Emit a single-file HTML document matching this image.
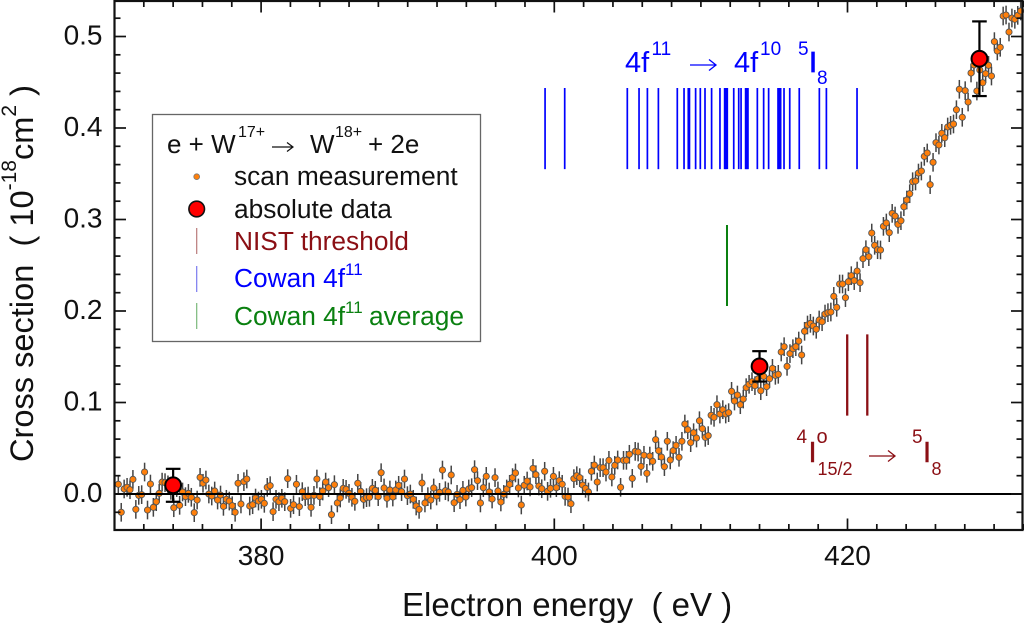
<!DOCTYPE html>
<html>
<head>
<meta charset="utf-8">
<title>Cross section chart</title>
<style>
html,body{margin:0;padding:0;background:#fff;}
svg{display:block;font-family:"Liberation Sans",Arial,sans-serif;}
</style>
</head>
<body>
<svg id="chart" xmlns="http://www.w3.org/2000/svg" width="1024" height="624" viewBox="0 0 1024 624">
  <rect x="0" y="0" width="1024" height="624" fill="#fff"/>
  <g id="marks"></g>
  <g id="axes"></g>

  <text x="402" y="616" font-size="33" fill="#111">Electron energy &#160;( eV )</text>
  <text transform="translate(33,462) rotate(-90)" font-size="32.6" fill="#111">Cross section &#160;( 10<tspan font-size="21" dy="-17">-18</tspan><tspan dy="17">cm</tspan><tspan font-size="21" dy="-17">2</tspan><tspan dy="17"> )</tspan></text>

  <g fill="#0000ff">
    <text x="625" y="72" font-size="29">4f</text>
    <text x="651.500" y="55" font-size="19">11</text>
    <path d="M690 65H716M709 59.500L716 65L709 70.500" fill="none" stroke="#0000ff" stroke-width="1.3"/>
    <text x="734" y="72" font-size="29">4f</text>
    <text x="760" y="55" font-size="19">10</text>
    <text x="798" y="55" font-size="19">5</text>
    <text x="809" y="72" font-size="29" stroke="#0000ff" stroke-width="0.8">I</text>
    <text x="817" y="84" font-size="19">8</text>
  </g>

  <g fill="#8b0f14">
    <text x="796.500" y="443" font-size="19">4</text>
    <text x="808.500" y="462" font-size="29" stroke="#8b0f14" stroke-width="0.5">I</text>
    <text x="816.500" y="443" font-size="20">o</text>
    <text x="817.500" y="475" font-size="18">15/2</text>
    <path d="M869 456H895M888 450.500L895 456L888 461.500" fill="none" stroke="#8b0f14" stroke-width="1.3"/>
    <text x="912" y="443" font-size="19">5</text>
    <text x="923" y="462" font-size="29" stroke="#8b0f14" stroke-width="0.5">I</text>
    <text x="931.500" y="475" font-size="18">8</text>
  </g>

  <g>
    <rect x="152.500" y="114.500" width="328" height="227" fill="#fff" stroke="#666" stroke-width="1.3"/>
    <g fill="#111">
      <text x="167" y="153" font-size="26">e + W</text>
      <text x="238" y="137" font-size="16">17+</text>
      <path d="M272 147H293M287 142.500L293 147L287 151.500" fill="none" stroke="#111" stroke-width="1.2"/>
      <text x="310" y="153" font-size="26">W</text>
      <text x="335" y="137" font-size="16">18+</text>
      <text x="368" y="153" font-size="26">+ 2e</text>
    </g>
    <circle cx="196.700" cy="176.700" r="2.900" fill="#ff7f0a" stroke="#777" stroke-width="0.800"/>
    <text x="234" y="185" font-size="26.300" fill="#111">scan measurement</text>
    <circle cx="196.700" cy="209" r="7.800" fill="#ff0000" stroke="#111" stroke-width="1.600"/>
    <text x="234" y="218" font-size="26.300" fill="#111">absolute data</text>
    <line x1="196.700" y1="228" x2="196.700" y2="254" stroke="#b97a7a" stroke-width="1.200"/>
    <text x="234" y="250" font-size="26.300" fill="#8b0f14">NIST threshold</text>
    <line x1="196.700" y1="266" x2="196.700" y2="292" stroke="#7a7aee" stroke-width="1.200"/>
    <g fill="#0000ff">
      <text x="234" y="287" font-size="26.300">Cowan 4f</text>
      <text x="345" y="275" font-size="17">11</text>
    </g>
    <line x1="196.700" y1="303" x2="196.700" y2="329" stroke="#7ab87a" stroke-width="1.200"/>
    <g fill="#0a8010">
      <text x="234" y="325" font-size="26.300">Cowan 4f</text>
      <text x="345" y="313" font-size="17">11</text>
      <text x="369" y="325" font-size="26.300">average</text>
    </g>
  </g>
</svg>

<script>
// Chart data
const scanStart = 370.26;
const scanStep = 0.1992;
// scan cross section, units of 1e-3 x 1e-18 cm2
const scanValuesMilli = [
10.6,-20,5.5,7.3,4.7,16,-16.8,-1.5,-0.7,24,-17.5,10.9,-14.6,-8.4,0.7,13,12.4,10,4,-15,7,-12.4,2.2,-2.9,0.7,-3.6,-20.4,-6.6,18.2,11.7,15.3,0,-2.2,3.3,-6.6,-1.1,-13.5,-5.8,-7.7,-12.8,-20,11.7,-10.9,13.5,16.4,-13.1,-11.7,-4.4,-7.7,-5.8,-10.2,7.3,9.1,-19.3,-5.8,-8.4,-4.7,-8.4,16.8,-15.7,-11.7,10.6,-13.8,2.6,-2.9,-2.2,-14.6,-1.5,16.4,-2.9,3.3,13.1,6.9,-22.6,10.2,-9.8,-4.4,6.2,5.1,0.7,-3.6,-8,11.7,
2.9,-5.8,-4,-3.6,6.2,4,-2.9,23.3,6.6,-4.7,4.4,-3.3,4.4,9.5,2.6,16.4,-1.8,0,-5.8,-13.1,-16.8,12,-9.8,-2.9,-6.6,6.6,-2.2,1.8,26.2,3.6,2.2,20.8,-9.5,-0.4,-6.2,4,-3.3,5.5,6.9,26.6,14.6,-9.8,6.9,19.3,2.2,-5.5,17.9,3.3,-8.7,-0.4,5.5,10.6,17.9,23,6.6,-12,9.5,14.2,7.7,28,21.1,8.7,5.8,24.8,2.9,6.2,19.3,6.9,14.6,10.6,-2.6,-3.3,-10.6,16.8,20,17.9,9.8,6.2,2.2,24.8,31.7,13.1,28.8,28.8,24,36.8,18.6,31.3,37.2,7.3,
36.8,36.8,43.4,17.1,46.6,45.9,30.2,42.3,22.6,41.5,35.7,59.4,47.4,40.4,29.9,57.6,37.2,47.4,53.2,40.1,57.6,76.5,70.3,56.1,67,61.2,80.1,71.4,61.9,63.8,86,83.8,97.6,87.4,92.2,87.4,88.9,112.2,101.6,108.2,97.6,103.8,116.2,119.9,122.8,118.4,125.7,112.9,128.6,117.3,126,137.3,129.7,130.8,155.2,161,139.5,153.4,158.8,161,167.2,151.9,177.8,184.7,186.5,183.6,180,190.2,188.3,196.7,198.2,198.9,216,204,
229.5,229.5,214.6,232,238.6,233.2,243.7,231,257.2,267,259.4,285.2,271.8,267,266.7,292.5,296.2,285.6,306.7,303.8,294.7,298.7,314,321.3,328.2,341.3,342.1,350.8,353,369,372.7,338.1,362.5,384,381.4,394.2,389.4,401.1,402.9,404.4,420,442.3,411.7,440.8,428.4,460.1,468.9,440.4,463.4,449.5,459.4,468.5,456.8,494.4,484.2,488.2,522.4,523.5,504.9,520.2,518.8,523.1,527.9,530.8
];
const scanErrorMilli = 10.2;
const absEnergies = [374, 414, 429];
const absValues = [0.0095, 0.1395, 0.4757];
const absErrors = [0.018, 0.0166, 0.0408];
const cowanLines = [399.37,400.71,404.98,405.78,406.35,407.10,408.39,408.85,409.14,409.22,409.64,409.96,410.28,410.73,411.30,411.62,411.71,411.80,412.24,412.58,412.74,413.05,413.12,413.21,413.85,414.28,414.62,415.26,415.35,415.44,415.67,416.06,416.71,418.08,418.56,420.65];
const cowanAverage = [411.78];
const nistLines = [419.98, 421.35];
const cowanRange = [0.355, 0.4437];
const averageRange = [0.2055, 0.294];
const nistRange = [0.0856, 0.1745];
const xTickValues = [380, 400, 420];
const xTickLabels = ["380", "400", "420"];
const yTickValues = [0, 0.1, 0.2, 0.3, 0.4, 0.5];
const yTickLabels = ["0.0", "0.1", "0.2", "0.3", "0.4", "0.5"];

// Axis functions
const xMin = 370, xMax = 432, yMin = -0.0394, yMax = 0.5388;
function xOf(e) { return 114.5 + (e - 370) * 14.66; }
function yOf(v) { return 494 - v * 915; }

const NS = 'http://www.w3.org/2000/svg';
const marks = document.getElementById('marks');
const axes = document.getElementById('axes');

function make(tag, parent, attrs) {
  const el = document.createElementNS(NS, tag);
  for (const k in attrs) el.setAttribute(k, attrs[k]);
  parent.appendChild(el);
  return el;
}

// vertical reference lines
function drawVLines(list, range, color, width, name) {
  list.forEach(function (e) {
    const l = make('line', marks, { x1: xOf(e), x2: xOf(e), y1: yOf(range[1]), y2: yOf(range[0]), stroke: color, 'stroke-width': width });
    
    
  });
}
drawVLines(cowanLines, cowanRange, '#0000ff', 1.7, 'cowan-line');
drawVLines(cowanAverage, averageRange, '#0a8010', 2, 'cowan-average-line');
drawVLines(nistLines, nistRange, '#8b0f14', 2.3, 'nist-threshold-line');

// scan points: error bars
scanValuesMilli.forEach(function (m, i) {
  const e = scanStart + i * scanStep;
  if (e > xMax) return;
  const bar = make('line', marks, { x1: xOf(e), x2: xOf(e), y1: yOf((m - scanErrorMilli) / 1000), y2: yOf((m + scanErrorMilli) / 1000), stroke: '#444', 'stroke-width': 1.5 });
  
  
});
// scan points: dots
scanValuesMilli.forEach(function (m, i) {
  const e = scanStart + i * scanStep;
  if (e > xMax) return;
  const dot = make('circle', marks, { cx: xOf(e), cy: yOf(m / 1000), r: 3.1, fill: '#ff7f0a', stroke: '#555', 'stroke-width': 0.9 });
  
  
});

// zero line
const zero = make('line', marks, { x1: xOf(xMin), x2: xOf(xMax), y1: yOf(0), y2: yOf(0), stroke: '#000', 'stroke-width': 2 });



// absolute data
absEnergies.forEach(function (e, i) {
  const x = xOf(e), v = absValues[i], err = absErrors[i];
  const g = make('g', marks, { stroke: '#000', 'stroke-width': 2.2 });
  
  
  make('line', g, { x1: x, x2: x, y1: yOf(v - err), y2: yOf(v + err) });
  make('line', g, { x1: x - 7.3, x2: x + 7.3, y1: yOf(v - err), y2: yOf(v - err) });
  make('line', g, { x1: x - 7.3, x2: x + 7.3, y1: yOf(v + err), y2: yOf(v + err) });
  make('circle', g, { cx: x, cy: yOf(v), r: 7.9, fill: '#ff0000', 'stroke-width': 2 });
});

// frame
const frame = make('rect', axes, { x: 114.5, y: 1, width: 908, height: 529, fill: 'none', stroke: '#111', 'stroke-width': 2.2 });



// x ticks (minor every 2 eV, major at the labelled values)
for (let e = 372; e <= 432; e += 2) {
  const major = xTickValues.indexOf(e) >= 0;
  const len = major ? 11.5 : 6;
  const b = make('line', axes, { x1: xOf(e), x2: xOf(e), y1: 530, y2: 530 - len, stroke: '#111', 'stroke-width': 1.7 });
  
  
  const t = make('line', axes, { x1: xOf(e), x2: xOf(e), y1: 1, y2: 1 + len, stroke: '#111', 'stroke-width': 1.7 });
  
  
}
xTickValues.forEach(function (e, i) {
  const t = make('text', axes, { x: xOf(e), y: 565, 'font-size': 28, 'text-anchor': 'middle', fill: '#111' });
  t.textContent = xTickLabels[i];
  
  
});

// y ticks (minor every 0.02, major at the labelled values)
for (let n = -1; n <= 26; n++) {
  const v = n * 0.02;
  const major = n % 5 === 0;
  const len = major ? 11.5 : 6;
  const l = make('line', axes, { x1: 114.5, x2: 114.5 + len, y1: yOf(v), y2: yOf(v), stroke: '#111', 'stroke-width': 1.7 });
  
  
  const r = make('line', axes, { x1: 1022.5, x2: 1022.5 - len, y1: yOf(v), y2: yOf(v), stroke: '#111', 'stroke-width': 1.7 });
  
  
}
yTickValues.forEach(function (v, i) {
  const t = make('text', axes, { x: 102.5, y: yOf(v) + 8.2, 'font-size': 28, 'text-anchor': 'end', fill: '#111' });
  t.textContent = yTickLabels[i];
  
  
});
</script>
</body>
</html>
